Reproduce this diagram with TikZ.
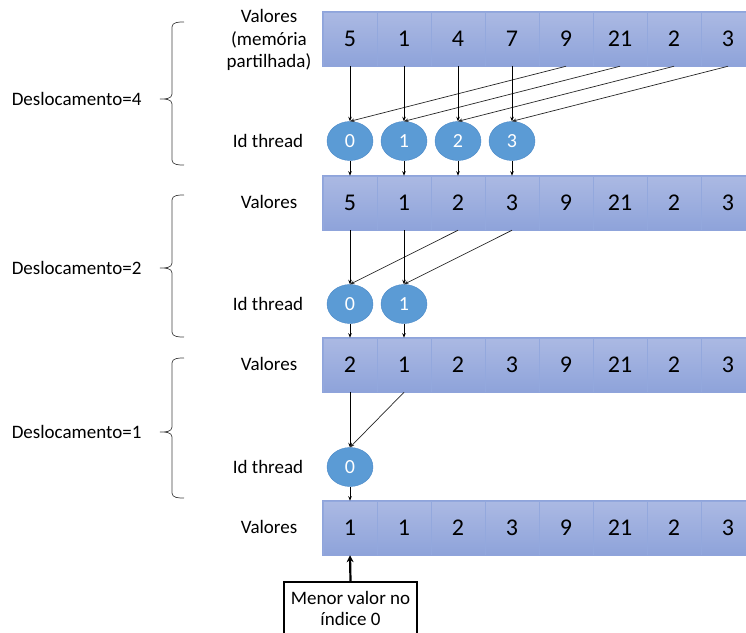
\documentclass[tikz,border=0pt]{standalone}
\usepackage{fontspec}
\setmainfont{Carlito}
\usetikzlibrary{shapes.geometric,arrows.meta}
\definecolor{celltop}{HTML}{ABB9E3}
\definecolor{cellbot}{HTML}{8EA3DA}
\definecolor{cellline}{HTML}{93A8DD}
\definecolor{arrayedge}{HTML}{8FA4DB}
\definecolor{threadfill}{HTML}{5B9BD5}
\definecolor{threadedge}{HTML}{4A89C8}
\tikzset{
  cell/.style={rectangle, minimum width=54pt, minimum height=54pt, inner sep=0pt,
    top color=celltop, bottom color=cellbot, draw=cellline, line width=0.5pt,
    font=\fontsize{24}{28}\selectfont},
  thread/.style={ellipse, minimum width=46pt, minimum height=39pt, inner sep=0pt,
    fill=threadfill, draw=threadedge, line width=0.4pt, text=white,
    font=\fontsize{20}{24}\selectfont},
  lbl/.style={align=center, font=\fontsize{19}{22.5}\selectfont},
  conn/.style={-{Stealth[length=4.5pt,width=3.5pt]}, line width=0.7pt, black},
  diag/.style={-{Stealth[length=4.5pt,width=3.5pt]}, line width=0.7pt, black!85},
  bracepath/.style={line width=0.7pt, black!75},
  notebox/.style={draw, line width=2.2pt, minimum width=133pt, minimum height=52pt,
    align=center, inner sep=0pt, font=\fontsize{19}{21}\selectfont},
  bigarrow/.style={-{Stealth[length=7pt,width=7pt]}, line width=2.2pt}
}
\begin{document}
\begin{tikzpicture}[x=1pt,y=-1pt]
\useasboundingbox (0,0) rectangle (746,632);
\begin{scope}
\clip (0,0) rectangle (746,632);
% value arrays
\foreach \r/\yc/\vals in {1/39/{5,1,4,7,9,21,2,3},2/203/{5,1,2,3,9,21,2,3},
                          3/365/{2,1,2,3,9,21,2,3},4/528/{1,1,2,3,9,21,2,3}}{
  \foreach \v [count=\i] in \vals {
    \node[cell] (r\r c\i) at ({350+54*(\i-1)},\yc) {\v};
  }
  \draw[arrayedge, line width=0.6pt] (r\r c1.north west) rectangle (r\r c8.south east);
}
% thread ellipses
\foreach \k [count=\i] in {0,1,2,3} \node[thread] (e1\i) at ({350+54*(\i-1)},141) {\k};
\foreach \k [count=\i] in {0,1} \node[thread] (e2\i) at ({350+54*(\i-1)},304) {\k};
\node[thread] (e31) at (350,467) {0};
% offset 4
\foreach \i in {1,...,4}{
  \pgfmathtruncatemacro{\m}{\i+4}
  \draw[conn] (r1c\i.south) -- (e1\i.north);
  \draw[diag] (r1c\m.south) -- (e1\i.north);
  \draw[conn] (e1\i.south) -- (r2c\i.north);
}
% offset 2
\foreach \i in {1,2}{
  \pgfmathtruncatemacro{\m}{\i+2}
  \draw[conn] (r2c\i.south) -- (e2\i.north);
  \draw[diag] (r2c\m.south) -- (e2\i.north);
  \draw[conn] (e2\i.south) -- (r3c\i.north);
}
% offset 1
\draw[conn] (r3c1.south) -- (e31.north);
\draw[diag] (r3c2.south) -- (e31.north);
\draw[conn] (e31.south) -- (r4c1.north);
% row labels
\node[lbl] (lv1) at (269,40) {Valores\\(memória\\partilhada)};
\node[lbl] (lt1) at (268,141) {Id thread};
\node[lbl] (lv2) at (269,202) {Valores};
\node[lbl] (lt2) at (268,304) {Id thread};
\node[lbl] (lv3) at (269,364) {Valores};
\node[lbl] (lt3) at (268,467) {Id thread};
\node[lbl] (lv4) at (269,527) {Valores};
% braces with offset labels
\foreach \t/\tip/\b/\d in {22/99/165/4, 195/268/337/2, 358/432/498/1}{
  \draw[bracepath] (184,\t) to[out=180,in=90] (172,{\t+5}) -- (172,{\tip-5})
    to[out=-90,in=0] (160,\tip) to[out=0,in=90] (172,{\tip+5}) -- (172,{\b-5})
    to[out=-90,in=180] (184,\b);
  \node[lbl, anchor=east] (d\d) at (145,\tip) {Deslocamento=\d};
}
% result note
\node[notebox] (note) at (350.5,608) {Menor valor no\\índice 0};
\draw[bigarrow] (note.north) -- (r4c1.south);
\end{scope}
\end{tikzpicture}
\end{document}
